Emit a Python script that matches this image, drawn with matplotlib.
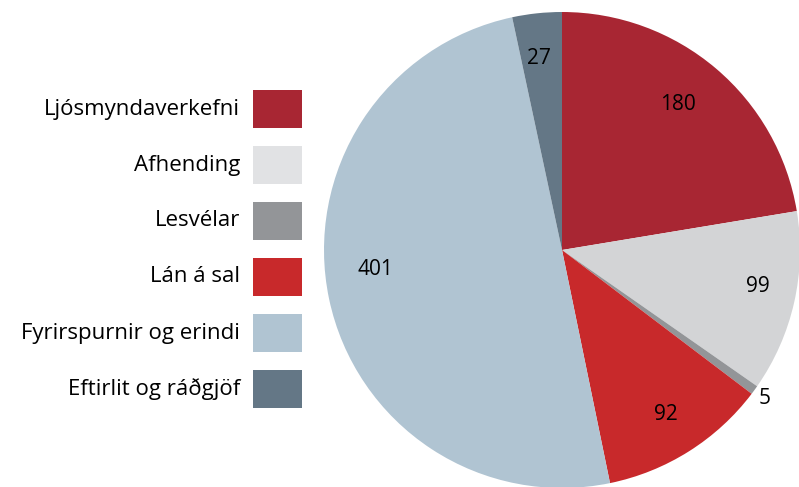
import numpy as np
import matplotlib
matplotlib.use("Agg")
import matplotlib.pyplot as plt
from matplotlib.patches import Rectangle

categories = ["Ljósmyndaverkefni", "Afhending", "Lesvélar", "Lán á sal",
              "Fyrirspurnir og erindi", "Eftirlit og ráðgjöf"]
values = [180, 99, 5, 92, 401, 27]
colors = ["#A82633", "#D3D4D6", "#939598", "#C8292B", "#B0C4D2", "#647786"]
legend_colors = ["#A82633", "#E1E2E4", "#939598", "#C8292B", "#B0C4D2", "#647786"]

plt.rcParams['font.family'] = ['Open Sans', 'DejaVu Sans']

W, H = 799, 487
fig = plt.figure(figsize=(W / 100, H / 100), dpi=100)

cx, cy, r = 562, 250, 238
ax = fig.add_axes([(cx - r) / W, (H - cy - r) / H, 2 * r / W, 2 * r / H])
wedges, _ = ax.pie(values, colors=colors, startangle=90, counterclock=False,
                   radius=1, wedgeprops=dict(linewidth=0))
ax.set_xlim(-1, 1)
ax.set_ylim(-1, 1)
ax.set_aspect('equal')
ax.axis('off')
for w in wedges:
    w.set_clip_on(False)

# label nudges in pixels (x right, y down)
nudges = [(-7.5, 0), (10, -6), (-1, 0), (2, 3), (0, -20), (-3, -2)]
total = sum(values)
for w, v, (nx, ny) in zip(wedges, values, nudges):
    mid = np.deg2rad((w.theta1 + w.theta2) / 2)
    dist = 1.06 if v / total < 0.02 else 0.80
    x = dist * np.cos(mid) + nx / r
    y = dist * np.sin(mid) - ny / r
    ax.text(x, y, str(v), ha='center', va='center',
            fontsize=15, color='black', clip_on=False)

# legend
top = 109
step = 56
for i, (lab, col) in enumerate(zip(categories, legend_colors)):
    yc = top + i * step
    fig.patches.append(Rectangle((253 / W, (H - yc - 19) / H), 49 / W, 38 / H,
                                 transform=fig.transFigure, facecolor=col,
                                 edgecolor='none'))
    fig.text(240 / W, (H - yc) / H, lab, ha='right', va='center', fontsize=16,
             color='black')

fig.savefig("out.png", dpi=100)
